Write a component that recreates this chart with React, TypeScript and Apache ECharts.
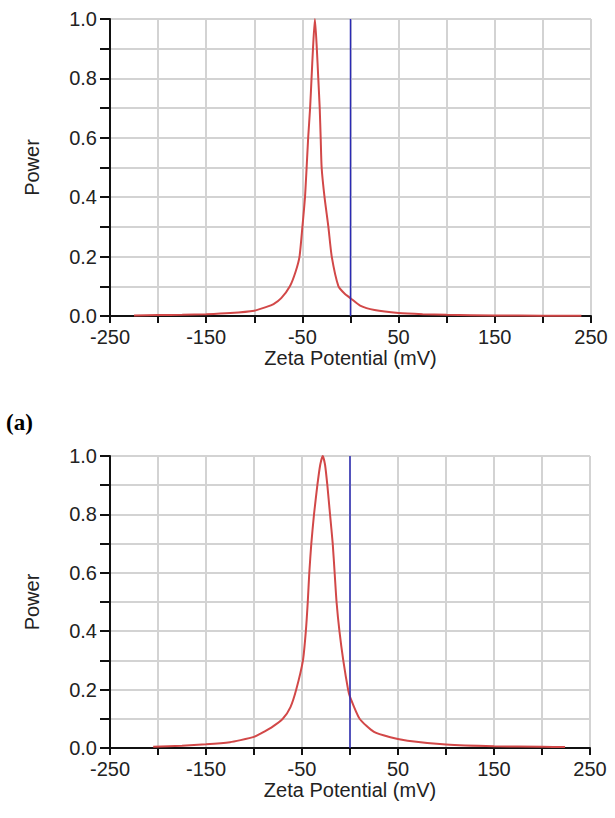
import React, { useEffect, useRef } from "react";
import * as echarts from "echarts";

// ---- data ----
const xTickLabels = [-250, -150, -50, 50, 150, 250];
const yTickLabels = [0, 0.2, 0.4, 0.6, 0.8, 1.0];

const topX = [-225, -200, -175, -150, -125, -100, -88, -80, -72, -63, -57, -53, -50, -47.3, -45.6, -44, -42, -40.5, -39, -37, -35, -33.5, -32, -31, -30, -27, -23, -19.5, -12.5, -6, 0, 10, 25, 50, 75, 100, 150, 200, 240];
const topY = [0.002, 0.003, 0.004, 0.006, 0.01, 0.018, 0.03, 0.04, 0.06, 0.1, 0.15, 0.2, 0.3, 0.4, 0.5, 0.6, 0.7, 0.8, 0.9, 1.0, 0.9, 0.8, 0.7, 0.6, 0.5, 0.4, 0.3, 0.2, 0.1, 0.075, 0.06, 0.035, 0.02, 0.01, 0.006, 0.004, 0.002, 0.001, 0.001];

const botX = [-205, -175, -150, -125, -114, -100, -94, -82, -70, -62, -56, -49, -46, -44, -42.4, -40.3, -37.5, -34, -31, -28.4, -26, -23.6, -20.8, -18, -16, -14, -11, -7, -2, 0, 10, 25, 42, 60, 100, 150, 200, 224];
const botY = [0.004, 0.008, 0.013, 0.02, 0.027, 0.038, 0.048, 0.07, 0.1, 0.14, 0.2, 0.3, 0.4, 0.5, 0.6, 0.7, 0.8, 0.9, 0.97, 1.0, 0.97, 0.9, 0.8, 0.7, 0.6, 0.5, 0.4, 0.3, 0.2, 0.175, 0.1, 0.055, 0.037, 0.025, 0.012, 0.006, 0.004, 0.003];

const zeroLineX = [0, 0];
const zeroLineY = [0, 1];

const FONT = "Liberation Sans, Arial, sans-serif";

function xAxis(gridIndex: number) {
  return {
    type: "value",
    gridIndex,
    min: -250,
    max: 250,
    interval: 50,
    name: "Zeta Potential (mV)",
    nameLocation: "middle",
    nameGap: 30,
    nameTextStyle: { fontSize: 20, color: "#222", fontFamily: FONT },
    axisLine: { onZero: false, lineStyle: { color: "#111", width: 2 } },
    axisTick: { show: true, inside: false, length: 7, lineStyle: { color: "#111", width: 2 } },
    axisLabel: {
      margin: 11,
      fontSize: 20,
      color: "#222",
      fontFamily: FONT,
      formatter: (v: number) => (xTickLabels.includes(Math.round(v)) ? String(Math.round(v)) : ""),
    },
    splitLine: { show: true, lineStyle: { color: "#d3d3d3", width: 2 } },
  };
}

function yAxis(gridIndex: number) {
  return {
    type: "value",
    gridIndex,
    min: 0,
    max: 1,
    interval: 0.1,
    name: "Power",
    nameLocation: "middle",
    nameGap: 68,
    nameTextStyle: { fontSize: 20, color: "#222", fontFamily: FONT },
    axisLine: { show: true, onZero: false, lineStyle: { color: "#111", width: 2 } },
    axisTick: { show: true, inside: false, length: 10, lineStyle: { color: "#111", width: 2 } },
    axisLabel: {
      margin: 13,
      fontSize: 20,
      color: "#222",
      fontFamily: FONT,
      formatter: (v: number) =>
        yTickLabels.some((t) => Math.abs(t - v) < 1e-6) ? v.toFixed(1) : "",
    },
    splitLine: { show: true, lineStyle: { color: "#d3d3d3", width: 2 } },
  };
}

export default function App() {
  const ref = useRef<HTMLDivElement>(null);
  useEffect(() => {
    if (!ref.current) return;
    const chart = echarts.init(ref.current, null, { renderer: "svg" });
    const curve = (xs: number[], ys: number[], idx: number) => ({
      type: "line",
      xAxisIndex: idx,
      yAxisIndex: idx,
      data: xs.map((x, i) => [x, ys[i]]),
      showSymbol: false,
      smooth: 0.2,
      lineStyle: { color: "#d24848", width: 2 },
      z: 3,
    });
    const zero = (idx: number) => ({
      type: "line",
      xAxisIndex: idx,
      yAxisIndex: idx,
      data: zeroLineX.map((x, i) => [x, zeroLineY[i]]),
      showSymbol: false,
      lineStyle: { color: "#2a2ab4", width: 1.5 },
      z: 4,
    });
    chart.setOption({
      animation: false,
      backgroundColor: "#fff",
      grid: [
        { left: 110, top: 19, width: 481, height: 297 },
        { left: 110, top: 456, width: 480, height: 292 },
      ],
      xAxis: [xAxis(0), xAxis(1)],
      yAxis: [yAxis(0), yAxis(1)],
      graphic: [
        {
          type: "text",
          left: 6,
          top: 411,
          style: {
            text: "(a)",
            font: "bold 23px 'Liberation Serif', 'Times New Roman', serif",
            fill: "#000",
          },
        },
      ],
      series: [curve(topX, topY, 0), zero(0), curve(botX, botY, 1), zero(1)],
    });
    return () => chart.dispose();
  }, []);
  return (
    <div
      ref={ref}
      style={{ position: "fixed", left: 0, top: 0, width: 615, height: 818, background: "#fff" }}
    />
  );
}
